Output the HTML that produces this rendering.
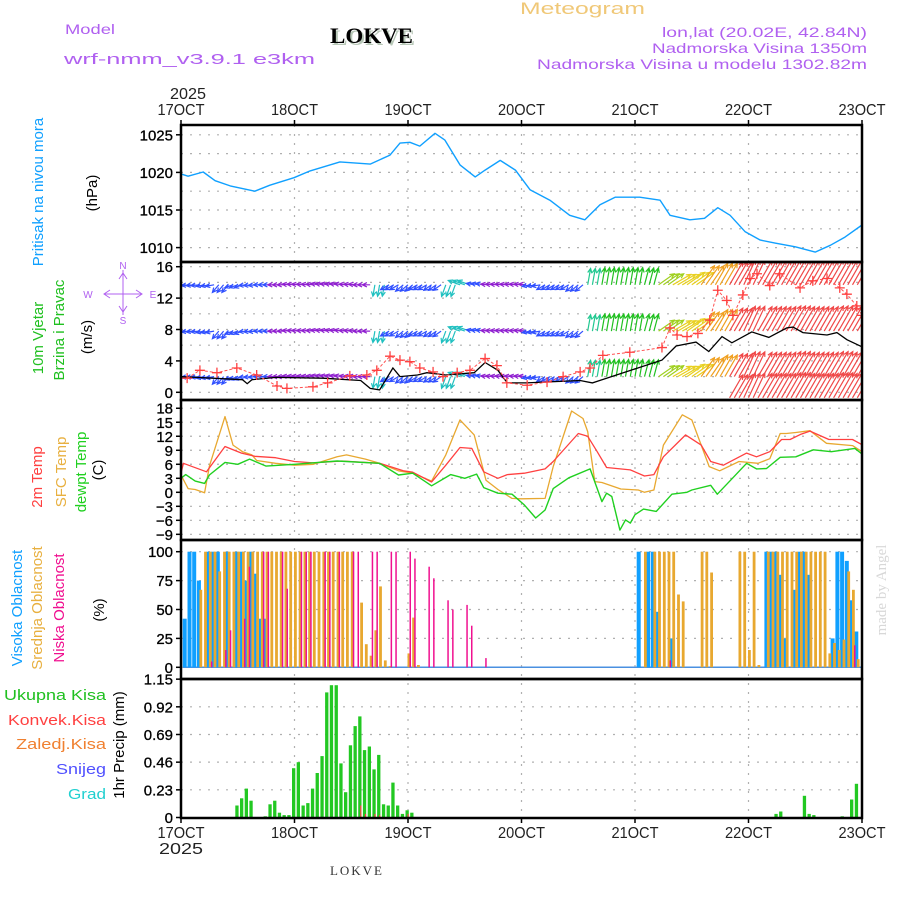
<!DOCTYPE html>
<html><head><meta charset="utf-8"><style>
html,body{margin:0;padding:0;background:#fff;}
svg{display:block;font-family:"Liberation Sans",sans-serif;}
</style></head><body>
<svg id="chart" width="900" height="900" viewBox="0 0 900 900" xmlns="http://www.w3.org/2000/svg">
<defs>
<clipPath id="cpW"><rect x="181" y="262" width="681" height="138"/></clipPath>
</defs>
<rect x="0" y="0" width="900" height="900" fill="#fff"/>
<g id="grid"></g>
<g id="marks"></g>
<g id="frames"></g>
<g id="labels">
<text x="65" y="34" font-size="14" fill="#b060f0" textLength="50" lengthAdjust="spacingAndGlyphs">Model</text>
<text x="64" y="64" font-size="15" fill="#b060f0" textLength="251" lengthAdjust="spacingAndGlyphs">wrf-nmm_v3.9.1 e3km</text>
<text x="332" y="45" font-family="Liberation Serif,serif" font-weight="bold" font-size="22" fill="#b8c8b8" textLength="83" lengthAdjust="spacingAndGlyphs">LOKVE</text>
<text x="330" y="43" font-family="Liberation Serif,serif" font-weight="bold" font-size="22" fill="#000" textLength="83" lengthAdjust="spacingAndGlyphs">LOKVE</text>
<text x="520" y="14" font-size="17" fill="#f0c878" textLength="125" lengthAdjust="spacingAndGlyphs">Meteogram</text>
<text x="662" y="37" font-size="14" fill="#b060f0" textLength="205" lengthAdjust="spacingAndGlyphs">lon,lat (20.02E, 42.84N)</text>
<text x="652" y="53" font-size="14" fill="#b060f0" textLength="215" lengthAdjust="spacingAndGlyphs">Nadmorska Visina 1350m</text>
<text x="537" y="69" font-size="14" fill="#b060f0" textLength="330" lengthAdjust="spacingAndGlyphs">Nadmorska Visina u modelu 1302.82m</text>

<text transform="translate(43,192) rotate(-90)" text-anchor="middle" font-size="15" fill="#10a0ff">Pritisak na nivou mora</text>
<text transform="translate(97,193) rotate(-90)" text-anchor="middle" font-size="15" fill="#000">(hPa)</text>
<text transform="translate(43,338) rotate(-90)" text-anchor="middle" font-size="15" fill="#20c020">10m Vjetar</text>
<text transform="translate(64,330) rotate(-90)" text-anchor="middle" font-size="15" fill="#20c020">Brzina i Pravac</text>
<text transform="translate(92,337) rotate(-90)" text-anchor="middle" font-size="15" fill="#000">(m/s)</text>
<text transform="translate(42,477) rotate(-90)" text-anchor="middle" font-size="15" fill="#ff4040">2m Temp</text>
<text transform="translate(66,472) rotate(-90)" text-anchor="middle" font-size="15" fill="#e8b040">SFC Temp</text>
<text transform="translate(86,472) rotate(-90)" text-anchor="middle" font-size="15" fill="#20d020">dewpt Temp</text>
<text transform="translate(103,470) rotate(-90)" text-anchor="middle" font-size="15" fill="#000">(C)</text>
<text transform="translate(22,608) rotate(-90)" text-anchor="middle" font-size="15" fill="#10a0ff">Visoka Oblacnost</text>
<text transform="translate(42,608) rotate(-90)" text-anchor="middle" font-size="15" fill="#e8b040">Srednja Oblacnost</text>
<text transform="translate(64,608) rotate(-90)" text-anchor="middle" font-size="15" fill="#f01090">Niska Oblacnost</text>
<text transform="translate(104,610) rotate(-90)" text-anchor="middle" font-size="15" fill="#000">(%)</text>
<text transform="translate(124,745) rotate(-90)" text-anchor="middle" font-size="15" fill="#000">1hr Precip (mm)</text>
<text x="106" y="700" text-anchor="end" font-size="15" fill="#20c020" textLength="102" lengthAdjust="spacingAndGlyphs">Ukupna  Kisa</text>
<text x="106" y="725" text-anchor="end" font-size="15" fill="#ff4040" textLength="98" lengthAdjust="spacingAndGlyphs">Konvek.Kisa</text>
<text x="106" y="749" text-anchor="end" font-size="15" fill="#f08030" textLength="90" lengthAdjust="spacingAndGlyphs">Zaledj.Kisa</text>
<text x="106" y="774" text-anchor="end" font-size="15" fill="#5050ff" textLength="50" lengthAdjust="spacingAndGlyphs">Snijeg</text>
<text x="106" y="799" text-anchor="end" font-size="15" fill="#20d0d0" textLength="38" lengthAdjust="spacingAndGlyphs">Grad</text>

<g stroke="#b060f0" fill="none" stroke-width="1">
<line x1="123" y1="270" x2="123" y2="315"/><line x1="104" y1="294" x2="142" y2="294"/>
<polyline points="119,279 123,273 127,279"/><polyline points="119,306 123,312 127,306"/>
<polyline points="110,290 104,294 110,298"/><polyline points="136,290 142,294 136,298"/>
</g>
<text x="123" y="269" text-anchor="middle" font-size="10" fill="#b060f0">N</text>
<text x="123" y="324" text-anchor="middle" font-size="10" fill="#b060f0">S</text>
<text x="88" y="298" text-anchor="middle" font-size="10" fill="#b060f0">W</text>
<text x="153" y="298" text-anchor="middle" font-size="10" fill="#b060f0">E</text>

<text x="330" y="875" font-family="Liberation Serif,serif" font-size="13" fill="#333" textLength="52" lengthAdjust="spacing">LOKVE</text>
<text transform="translate(886,590) rotate(-90)" text-anchor="middle" font-family="Liberation Serif,serif" font-size="15" fill="#d8d8d8">made by Angel</text>
</g>
</svg>
<script>
// ---------- data ----------
const dayLabels = ["17OCT","18OCT","19OCT","20OCT","21OCT","22OCT","23OCT"];
const yearLabel = "2025";
const presTicks = [1025,1020,1015,1010];
const windTicks = [16,12,8,4,0];
const tempTicks = [18,15,12,9,6,3,0,-3,-6,-9];
const cloudTicks = [100,75,50,25,0];
const precipTicks = [1.15,0.92,0.69,0.46,0.23,0];

const presHours = [0,1.5,4.7,7.2,10.4,15.6,18.8,23.9,27.3,33.6,40,44.2,46.3,48.4,50.5,53.7,55.8,59,62.2,64.3,67.5,70.7,73.8,78,82.2,85.4,88.6,91.8,97,101.3,103.4,107.6,110.7,113.5,116.1,119.3,122.5,125.6,129.9,134.1,137.3,140.4,144];
const presVals = [1019.8,1019.5,1020.05,1018.9,1018.2,1017.5,1018.3,1019.3,1020.2,1021.4,1021.1,1022.3,1023.9,1024.0,1023.5,1025.2,1024.3,1021.0,1019.4,1020.3,1021.6,1020.3,1017.7,1016.3,1014.3,1013.7,1015.7,1016.7,1016.7,1016.3,1014.3,1013.7,1013.9,1015.3,1014.3,1012.1,1011.0,1010.6,1010.1,1009.4,1010.3,1011.4,1013.0];

const t2Hours = [0,0.5,5.4,9.3,12.8,15.6,20,24,28,34,42,47,49,53,56,59,61.5,64,67,69,72.6,77,78.7,84,86,88,90,95,98,100,102,106.7,110,112,114.7,119.6,121.7,124.5,127,128.8,131,133,137,142,144];
const t2Vals = [4.1,6.2,4.4,9.8,8.4,7.7,7.4,6.6,6.3,6.7,6.2,4.6,4.3,2.2,5.8,9.6,9.4,4.4,3.0,3.8,4.1,5.0,6.6,12.6,12.0,8.7,5.3,4.8,3.5,3.8,7.6,12.3,10.1,6.6,5.8,8.4,7.6,8.7,11.3,11.3,12.4,13.1,11.3,11.3,10.2];
const sfcHours = [0,1.5,3,5,6,9.3,11,12,13,15,16,20,24,28,33,35,39,42,46,49,53,56,59,62,64.5,67,70,72,77,78.7,82.6,85,86,87.5,89,93,96.7,98,100,102,106,108,111.7,113.9,118,122,124.5,126.7,128,130,133,136.5,142,144];
const sfcVals = [3.7,0.8,0.6,-0.1,5.6,16.2,10.1,9.4,8.7,8.0,6.8,6.2,5.8,6.0,7.6,8.0,7.1,6.2,4.6,4.1,2.4,8.0,15.5,12.3,2.6,0.6,-1.3,-1.4,-1.3,5.5,17.4,15.8,13.0,2.3,2.1,0.7,0.5,0.0,0.5,10.1,16.6,15.5,5.5,4.6,6.6,6.2,7.2,12.6,12.6,12.8,13.2,10.5,10.0,8.7];
const dewHours = [0,1,3,5,6,9.3,12,14.5,18,24,33,42,46,49,53,57,60,62.5,64,67,70,72.6,75,77,78.7,82,86.5,89,90,91.1,92.8,94,95,96,97.8,100.5,103.8,107,108,112,113.4,116.6,119.6,121.7,123.8,126.7,130,133.7,137.5,142.5,144];
const dewVals = [3.0,3.8,2.4,1.9,3.7,6.4,6.0,7.1,5.6,6.0,6.7,6.2,3.7,4.1,1.4,3.8,3.0,3.9,1.0,-0.2,-0.4,-2.7,-5.5,-3.8,0.8,3.1,5.0,-2.0,-0.2,-0.9,-8.1,-5.9,-6.6,-4.8,-3.6,-4.1,-0.4,0.0,0.5,1.5,-0.4,3.0,6.2,5.0,5.1,7.5,7.6,9.1,8.7,9.4,8.2];

// wind every 3 hours: meteorological direction (from, deg) and speed (m/s)
const windHours = [0,3,6,9,12,15,18,21,24,27,30,33,36,39,42,45,48,51,54,57,60,63,66,69,72,75,78,81,84,87,90,93,96,99,102,105,108,111,114,117,120,123,126,129,132,135,138,141,144];
const windDir = [90,85,80,40,70,85,90,90,95,95,100,100,95,90,10,60,50,60,55,20,110,100,95,95,95,80,60,60,50,190,190,190,190,195,235,240,235,215,210,210,205,210,210,210,210,210,210,210,210];
const windSpd = [2.5,2.5,2.2,3,2.2,2,1.8,1.7,1.6,1.5,1.5,1.5,1.5,1.7,4,3,3,3,2.8,4.5,4.5,1.8,1.6,1.6,1.6,2.4,2.8,2.8,3,7,7.5,7.5,7.5,7.5,8.5,9.5,10,11,12,13,13.5,14,14,14.5,14,14,14.5,14,14];
const gustHours = [1.3,4,7.6,11.8,16,20.3,22.4,27.9,31,35.7,39.3,41.4,44.2,46.3,48.4,50.5,53.3,55.4,58.4,61.1,64.3,66.8,68.9,73.2,77.4,80.8,84.4,86.5,89.2,94.9,101.7,103.4,104.9,107,109.3,111.8,113.5,115.4,116.7,118.8,120.3,121.8,124.5,126.6,130.9,133.6,136.6,139.3,140.8,142.9,144];
const gustVals = [1.8,2.8,2.5,3.1,2.2,0.8,0.5,0.7,1.2,2.1,2.2,2.8,4.6,4.1,3.9,3.1,2.6,2.0,2.5,2.8,4.3,3.4,1.2,0.9,1.3,2.0,2.6,3.1,4.7,5.1,5.7,8.2,7.3,7.1,7.5,9.2,13,11.7,9.8,12.4,14.5,15.1,13.6,15.1,13.3,14.2,14.5,13.3,12.5,11,9.8];
const speedHours = [0,13,14,15,20,30,38,40,42,44.8,46.3,50,52,56,62,64.3,67,69,73,84.4,87,101.7,104.7,108.9,111.6,114.4,116.5,120.7,124.3,128.1,129.4,131.5,136.6,138.7,140.8,144];
const speedVals = [2.0,1.6,1.1,1.6,1.9,1.8,1.5,0.5,0.3,3.1,2.0,2.2,2.5,2.2,2.5,3.8,2.8,1.2,1.2,1.5,1.2,4.1,5.9,6.4,5.2,7.1,6.3,7.7,7.0,8.2,8.3,7.6,7.3,7.6,6.7,5.8];
const windRowLevels = [13.7,7.8,2.0];

// cloud cover (%) by forecast hour
const highHours = [1,2,3,4,6,7,8,10,12,13,14,15,16,17,18,97,99,100,101,104,124,125,126,127,128,130,131,132,133,138,139,140,141,142,143];
const highVals  = [42,100,100,75,100,100,100,100,100,100,75,100,81,42,42,100,100,100,48,25,100,100,100,80,25,67,100,100,80,25,100,100,92,58,31];
const midHours = [4,5,6,7,8,9,10,11,12,13,14,15,16,17,18,19,20,21,22,23,24,25,26,27,28,29,30,31,32,33,34,35,36,38,39,40,41,42,43,44,48,49,50,98,100,101,102,103,104,105,106,110,111,112,118,119,120,121,122,124,125,126,127,128,129,130,131,132,133,134,135,136,137,138,139,140,141,142,143];
const midVals  = [67,100,100,100,83,100,100,100,100,100,100,100,100,100,100,100,100,100,100,100,100,100,100,100,100,100,100,100,100,100,100,100,100,56,20,10,32,70,6,1,12,43,2,100,100,100,100,100,100,63,57,100,100,82,100,100,15,100,2,100,100,100,100,100,100,100,100,100,100,100,100,100,12,21,15,24,83,67,7];
const lowHours = [6,9,10,13,14,17,18,21,22,25,26,27,30,31,33,36,37,40,41,44,45,48,49,52,53,56,57,60,61,64,103,142];
const lowVals  = [5,15,32,42,87,100,100,100,68,100,100,100,100,100,100,100,100,100,100,100,100,100,94,87,77,58,50,54,36,8,6,19];

// 1-hr precipitation (mm)
const precipHours = [12,13,14,15,18,19,20,21,22,23,24,25,26,27,28,29,30,31,32,33,34,35,36,37,38,39,40,41,42,43,44,45,46,47,48,49,126,127,132,133,134,140,142,143];
const precipTotal = [0.10,0.16,0.24,0.14,0.01,0.11,0.14,0.04,0.02,0.02,0.41,0.46,0.10,0.12,0.24,0.37,0.51,1.04,1.10,1.10,0.45,0.21,0.60,0.76,0.84,0.56,0.59,0.40,0.52,0.11,0.10,0.29,0.10,0.03,0.06,0.04,0.03,0.05,0.18,0.03,0.02,0.01,0.15,0.28];
const convHours = [38,39,41,42,48];
const convVals = [0.10,0.03,0.03,0.02,0.03];

// ---------- scales ----------
const X0=181, X1=862, NH=144;
const xS = h => X0 + h*(X1-X0)/NH;
const yP = p => 134.8 + (1025-p)*7.52;
const yW = v => 392.3 - v*7.85;
const yT = t => 492.3 - t*4.67;
const yC = c => 667.3 - c*1.156;
const yR = r => 817.5 - r*120.3;
const panels = [[125,262],[262,400],[400,540],[540,679],[679,818]];

const NS="http://www.w3.org/2000/svg";
function mk(tag, attrs, parent){const e=document.createElementNS(NS,tag);for(const k in attrs)e.setAttribute(k,attrs[k]);parent.appendChild(e);return e;}
const grid=document.getElementById('grid'), marks=document.getElementById('marks'), frames=document.getElementById('frames'), labels=document.getElementById('labels');

function hgrid(vals, f, name){
  vals.forEach(v=>{
    const l=mk('line',{x1:X0,x2:X1,y1:f(v),y2:f(v),stroke:'#b0b0b0','stroke-width':1.2,'stroke-dasharray':'2,7'},grid);
    
    
  });
}
const pg=[];for(let p=1010;p<=1025;p+=2.5)pg.push(p);hgrid(pg,yP,'pressure-gridline');
const wg=[];for(let v=0;v<=16;v+=2)wg.push(v);hgrid(wg,yW,'wind-gridline');
hgrid(tempTicks,yT,'temp-gridline');
hgrid(cloudTicks,yC,'cloud-gridline');
hgrid(precipTicks.filter(v=>v>0),yR,'precip-gridline');
for(let d=1;d<6;d++){
  const l=mk('line',{x1:xS(d*24),x2:xS(d*24),y1:125,y2:818,stroke:'#b0b0b0','stroke-width':1.2,'stroke-dasharray':'2,7'},grid);
  
  
}

function poly(hs, vs, xf, yf, color, name, w){
  const pts=hs.map((h,i)=>xf(h).toFixed(1)+','+yf(vs[i]).toFixed(1)).join(' ');
  const e=mk('polyline',{points:pts,fill:'none',stroke:color,'stroke-width':w||1.3,'stroke-linejoin':'round'},marks);
  
  
  return e;
}

poly(presHours,presVals,xS,yP,'#10a0ff','pressure-line',1.4);

function bars(hs, vs, yf, color, off, w, name){
  hs.forEach((h,i)=>{
    const y=yf(vs[i]);
    const r=mk('rect',{x:(xS(h)+off).toFixed(1),y:y.toFixed(1),width:w,height:Math.max(0,yf(0)-y).toFixed(1),fill:color},marks);
    
    
  });
}
const base=mk('line',{x1:X0+2,x2:X1,y1:yC(0),y2:yC(0),stroke:'#4a90e0','stroke-width':1.5},marks);


bars(highHours,highVals,yC,'#10a0ff',-3,4,'high-cloud-bar');
bars(midHours,midVals,yC,'#e8a830',-0.5,2.8,'mid-cloud-bar');
bars(lowHours,lowVals,yC,'#f01090',1.5,1.5,'low-cloud-bar');

bars(precipHours,precipTotal,yR,'#22c822',-2.5,3.3,'precip-bar');
bars(convHours,convVals,yR,'#ff4040',-0.5,1.2,'convective-precip-bar');

poly(sfcHours,sfcVals,xS,yT,'#e8a830','sfc-temp-line',1.3);
poly(t2Hours,t2Vals,xS,yT,'#ff4040','temp-2m-line',1.3);
poly(dewHours,dewVals,xS,yT,'#20d020','dewpoint-line',1.4);

const wg2=mk('g',{'clip-path':'url(#cpW)'},marks);


function spdColor(s){
  if(s<1.8) return '#9020d0';
  if(s<3.5) return '#3050ff';
  if(s<5) return '#20c0c0';
  if(s<7.2) return '#20c890';
  if(s<8.2) return '#20c020';
  if(s<9.2) return '#a0d020';
  if(s<10.5) return '#e8d020';
  if(s<12.5) return '#f0a020';
  return '#f04848';
}
for(let h=0;h<=NH;h+=1){
  const i=Math.min(windHours.length-1,Math.round(h/3));
  const to=(windDir[i]+180)*Math.PI/180, s=windSpd[i];
  const L=Math.min(30,5+1.65*s);
  const dx=Math.sin(to), dy=-Math.cos(to);
  const rows = h>=116 ? windRowLevels.concat([-0.7]) : windRowLevels;
  rows.forEach(rv=>{
    const x=xS(h), y=yW(rv), tx=x+dx*L, ty=y+dy*L;
    const c=spdColor(s);
    const a1=Math.atan2(dy,dx), hl=5;
    const d=`M${x.toFixed(1)},${y.toFixed(1)}L${tx.toFixed(1)},${ty.toFixed(1)}M${(tx-hl*Math.cos(a1-0.45)).toFixed(1)},${(ty-hl*Math.sin(a1-0.45)).toFixed(1)}L${tx.toFixed(1)},${ty.toFixed(1)}L${(tx-hl*Math.cos(a1+0.45)).toFixed(1)},${(ty-hl*Math.sin(a1+0.45)).toFixed(1)}`;
    const p=mk('path',{d:d,fill:'none',stroke:c,'stroke-width':1.2},wg2);
    
    
  });
}
const sp=mk('polyline',{points:speedHours.map((h,i)=>xS(h).toFixed(1)+','+yW(speedVals[i]).toFixed(1)).join(' '),fill:'none',stroke:'#000','stroke-width':1.3},wg2);


const gl=mk('polyline',{points:gustHours.map((h,i)=>xS(h).toFixed(1)+','+yW(gustVals[i]).toFixed(1)).join(' '),fill:'none',stroke:'#ff5050','stroke-width':1,'stroke-dasharray':'3,2'},wg2);


gustHours.forEach((h,i)=>{
  const x=xS(h), y=yW(gustVals[i]);
  const p=mk('path',{d:`M${x-5},${y}H${x+5}M${x},${y-5}V${y+5}`,stroke:'#ff4040','stroke-width':1.3},wg2);
  
  
});

panels.forEach(([a,b],i)=>{
  const r=mk('rect',{x:X0,y:a,width:X1-X0,height:b-a,fill:'none',stroke:'#000','stroke-width':2.5},frames);
  
  
});

function yticks(vals,f,name,fmt){
  vals.forEach(v=>{
    const y=f(v);
    const t=mk('line',{x1:X0-5,x2:X0,y1:y,y2:y,stroke:'#000','stroke-width':1.5},frames);
    
    
    const tx=mk('text',{x:173,y:(y+5.5).toFixed(1),'text-anchor':'end','font-size':15,fill:'#000',stroke:'#000','stroke-width':0.3},labels);
    tx.textContent = fmt ? fmt(v) : String(v).replace('-','\u2212');
    
    
  });
}
yticks(presTicks,yP,'pressure-axis');
yticks(windTicks,yW,'wind-axis');
yticks(tempTicks,yT,'temp-axis');
yticks(cloudTicks,yC,'cloud-axis');
yticks(precipTicks,yR,'precip-axis',v=>v===0?'0':v.toFixed(2));

dayLabels.forEach((lab,d)=>{
  const x=xS(d*24);
  [[125,-5,115],[818,5,838]].forEach(([yy,dt,ty],k)=>{
    const t=mk('line',{x1:x,x2:x,y1:yy,y2:yy+dt,stroke:'#000','stroke-width':1.5},frames);
    
    
    const tx=mk('text',{x:x,y:ty,'text-anchor':'middle','font-size':16,fill:'#222',textLength:47,lengthAdjust:'spacingAndGlyphs'},labels);
    tx.textContent=lab;
    
    
  });
});
const yr1=mk('text',{x:188,y:99,'text-anchor':'middle','font-size':16,fill:'#222',textLength:36,lengthAdjust:'spacingAndGlyphs'},labels);
yr1.textContent=yearLabel;


const yr2=mk('text',{x:181,y:854,'text-anchor':'middle','font-size':16,fill:'#222',textLength:44,lengthAdjust:'spacingAndGlyphs'},labels);
yr2.textContent=yearLabel;


</script>
</body></html>
